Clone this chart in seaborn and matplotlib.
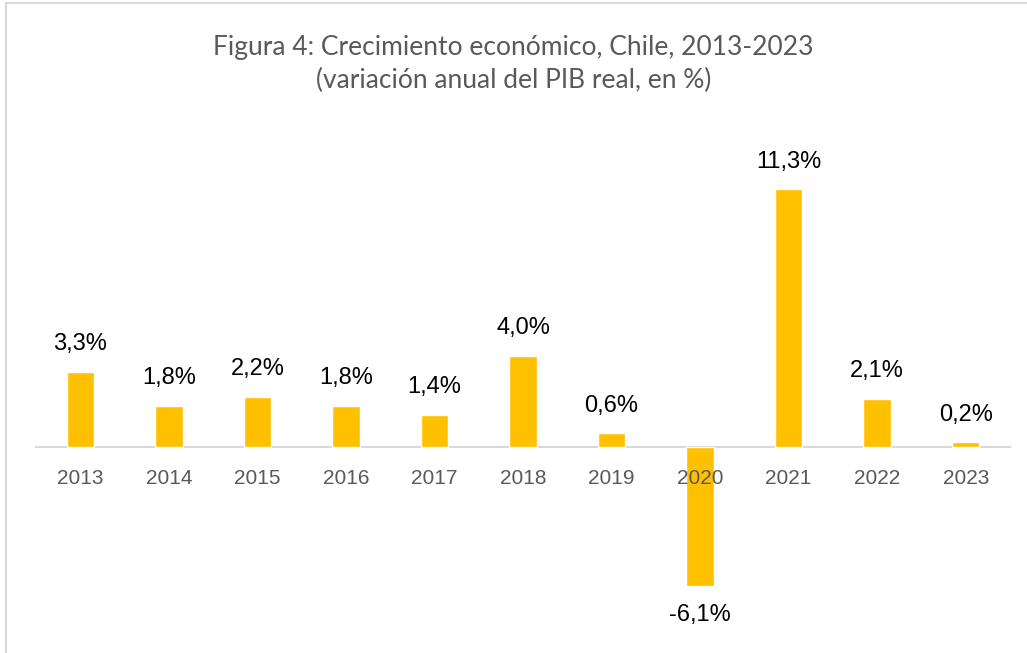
import matplotlib
matplotlib.use("Agg")
import matplotlib.pyplot as plt
import seaborn as sns
import pandas as pd
from matplotlib.patches import Rectangle

# data
years = ["2013", "2014", "2015", "2016", "2017", "2018",
         "2019", "2020", "2021", "2022", "2023"]
growth = [3.3, 1.8, 2.2, 1.8, 1.4, 4.0, 0.6, -6.1, 11.3, 2.1, 0.2]
title_lines = ["Figura 4: Crecimiento económico, Chile, 2013-2023",
               "(variación anual del PIB real, en %)"]

sns.set_style("white")
plt.rcParams['font.family'] = ['Liberation Sans', 'DejaVu Sans']

df = pd.DataFrame({'year': years, 'growth': growth})

W, H = 1027, 653
fig = plt.figure(figsize=(W / 100, H / 100), dpi=100)

# axes placement in pixels: x from 36 to 1010, y zero at 447 (22.8 px per unit)
y_lo, y_hi = -8, 12
px_per_unit = 22.8
top_px = 447 - y_hi * px_per_unit
bot_px = 447 - y_lo * px_per_unit
ax = fig.add_axes([36 / W, 1 - bot_px / H, (1010 - 36) / W, (bot_px - top_px) / H])

sns.barplot(data=df, x='year', y='growth', color='#FFC000', saturation=1,
            width=0.31, ax=ax)

ax.set_ylim(y_lo, y_hi)
ax.set_xlim(-0.5, len(years) - 0.5)
ax.set_xlabel('')
ax.set_ylabel('')
ax.set_yticks([])
for s in ['top', 'right', 'left']:
    ax.spines[s].set_visible(False)
# category axis crosses at zero; its labels sit over the bars
ax.spines['bottom'].set_position(('data', 0))
ax.spines['bottom'].set_color('#D9D9D9')
ax.spines['bottom'].set_linewidth(1.5)
ax.spines['bottom'].set_zorder(0.5)
ax.xaxis.set_zorder(3)
ax.tick_params(axis='x', length=0, pad=16, labelsize=15, labelcolor='#595959')

# data labels
for i, v in enumerate(growth):
    label = f"{v:.1f}".replace('.', ',') + '%'
    off = 20 if v >= 0 else -21
    ax.annotate(label, (i, v), xytext=(0, off), textcoords='offset points',
                ha='center', va='center', fontsize=17, color='black')

# title
fig.text(0.5, 1 - 47 / H, title_lines[0], ha='center', va='center',
         fontsize=19, color='#595959', family=['Lato', 'DejaVu Sans'])
fig.text(0.5, 1 - 80 / H, title_lines[1], ha='center', va='center',
         fontsize=19, color='#595959', family=['Lato', 'DejaVu Sans'])

# chart area border
fig.patches.append(Rectangle((6 / W, -0.05), 1.1, 1.05 - 3 / H,
                             transform=fig.transFigure, fill=False,
                             edgecolor='#D9D9D9', lw=1.5))

fig.savefig('out.png', dpi=100)
